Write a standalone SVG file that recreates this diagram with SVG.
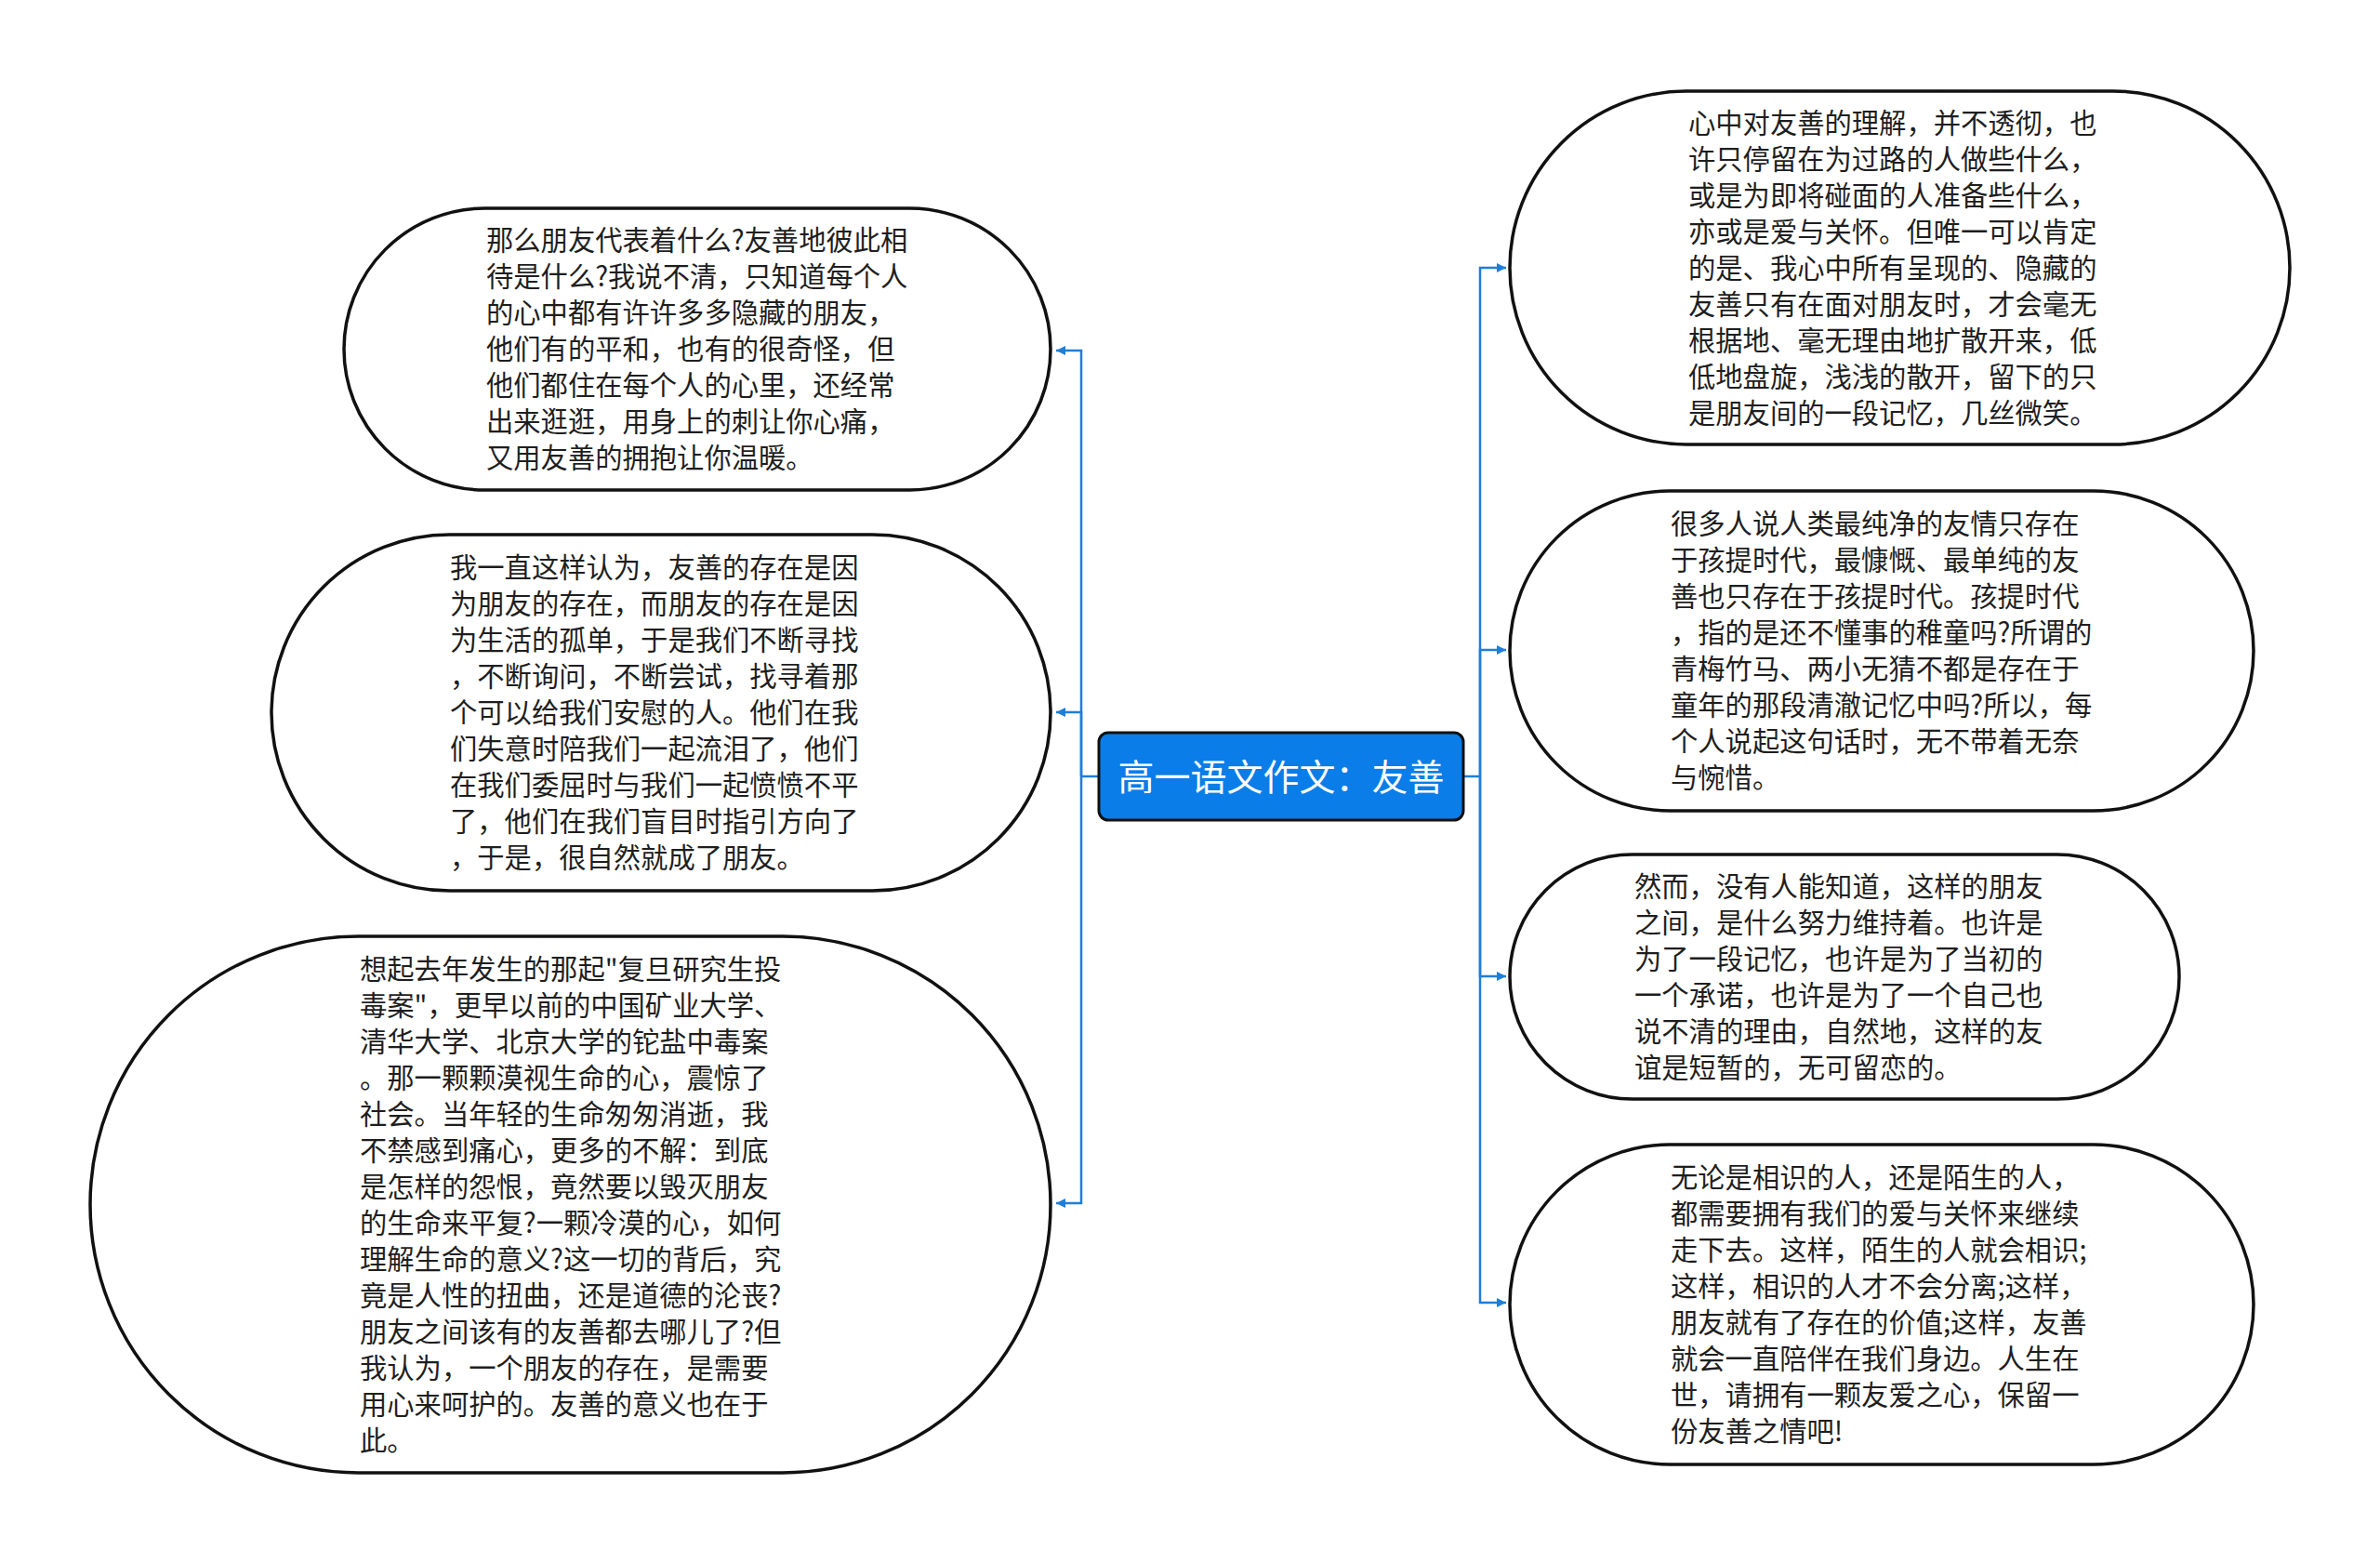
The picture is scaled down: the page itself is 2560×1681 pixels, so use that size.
<svg xmlns="http://www.w3.org/2000/svg" width="2560" height="1681" viewBox="0 0 2560 1681">
<style>
.n{fill:#ffffff;stroke:#111111;stroke-width:3.5}
.t{font-family:"Noto Sans CJK SC","Noto Sans",sans-serif;font-size:29.3px;fill:#1e1e1e}
.c{fill:none;stroke:#1f7ed8;stroke-width:2.5}
.title{font-family:"Noto Sans CJK SC","Noto Sans",sans-serif;font-size:39px;fill:#ffffff}
</style>
<defs>
<marker id="ah" markerWidth="11" markerHeight="11" refX="10" refY="5" orient="auto" markerUnits="userSpaceOnUse">
<path d="M0,0 L10,5 L0,10 z" fill="#1f7ed8"/>
</marker>
</defs>
<rect width="2560" height="1681" fill="#ffffff"/>
<g id="connectors">
<path class="c" d="M1182,835 H1163"/>
<path class="c" d="M1163,835 V377 H1136" marker-end="url(#ah)"/>
<path class="c" d="M1163,835 V766 H1136" marker-end="url(#ah)"/>
<path class="c" d="M1163,835 V1294 H1136" marker-end="url(#ah)"/>
<path class="c" d="M1574,835 H1592"/>
<path class="c" d="M1592,835 V288 H1620" marker-end="url(#ah)"/>
<path class="c" d="M1592,835 V699 H1620" marker-end="url(#ah)"/>
<path class="c" d="M1592,835 V1050 H1620" marker-end="url(#ah)"/>
<path class="c" d="M1592,835 V1401 H1620" marker-end="url(#ah)"/>
</g>
<g id="center">
<rect x="1182" y="788" width="392" height="94" rx="10" ry="10" fill="#0a7de8" stroke="#111111" stroke-width="3"/>
<text class="title" x="1378" y="850" text-anchor="middle">高一语文作文：友善</text>
</g>
<g id="node-l1">
<rect class="n" x="370" y="224" width="760" height="303" rx="151.5" ry="151.5"/>
<text class="t" x="523" y="269">那么朋友代表着什么?友善地彼此相</text>
<text class="t" x="523" y="308">待是什么?我说不清，只知道每个人</text>
<text class="t" x="523" y="347">的心中都有许许多多隐藏的朋友，</text>
<text class="t" x="523" y="386">他们有的平和，也有的很奇怪，但</text>
<text class="t" x="523" y="425">他们都住在每个人的心里，还经常</text>
<text class="t" x="523" y="464">出来逛逛，用身上的刺让你心痛，</text>
<text class="t" x="523" y="503">又用友善的拥抱让你温暖。</text>
</g>
<g id="node-l2">
<rect class="n" x="292" y="575" width="838" height="383" rx="191.5" ry="191.5"/>
<text class="t" x="484" y="621">我一直这样认为，友善的存在是因</text>
<text class="t" x="484" y="660">为朋友的存在，而朋友的存在是因</text>
<text class="t" x="484" y="699">为生活的孤单，于是我们不断寻找</text>
<text class="t" x="484" y="738">，不断询问，不断尝试，找寻着那</text>
<text class="t" x="484" y="777">个可以给我们安慰的人。他们在我</text>
<text class="t" x="484" y="816">们失意时陪我们一起流泪了，他们</text>
<text class="t" x="484" y="855">在我们委屈时与我们一起愤愤不平</text>
<text class="t" x="484" y="894">了，他们在我们盲目时指引方向了</text>
<text class="t" x="484" y="933">，于是，很自然就成了朋友。</text>
</g>
<g id="node-l3">
<rect class="n" x="97" y="1007" width="1033" height="577" rx="288.5" ry="288.5"/>
<text class="t" x="387" y="1052.5">想起去年发生的那起"复旦研究生投</text>
<text class="t" x="387" y="1091.5">毒案"，更早以前的中国矿业大学、</text>
<text class="t" x="387" y="1130.5">清华大学、北京大学的铊盐中毒案</text>
<text class="t" x="387" y="1169.5">。那一颗颗漠视生命的心，震惊了</text>
<text class="t" x="387" y="1208.5">社会。当年轻的生命匆匆消逝，我</text>
<text class="t" x="387" y="1247.5">不禁感到痛心，更多的不解：到底</text>
<text class="t" x="387" y="1286.5">是怎样的怨恨，竟然要以毁灭朋友</text>
<text class="t" x="387" y="1325.5">的生命来平复?一颗冷漠的心，如何</text>
<text class="t" x="387" y="1364.5">理解生命的意义?这一切的背后，究</text>
<text class="t" x="387" y="1403.5">竟是人性的扭曲，还是道德的沦丧?</text>
<text class="t" x="387" y="1442.5">朋友之间该有的友善都去哪儿了?但</text>
<text class="t" x="387" y="1481.5">我认为，一个朋友的存在，是需要</text>
<text class="t" x="387" y="1520.5">用心来呵护的。友善的意义也在于</text>
<text class="t" x="387" y="1559.5">此。</text>
</g>
<g id="node-r1">
<rect class="n" x="1624" y="98" width="839" height="380" rx="190" ry="190"/>
<text class="t" x="1816" y="142.5">心中对友善的理解，并不透彻，也</text>
<text class="t" x="1816" y="181.5">许只停留在为过路的人做些什么，</text>
<text class="t" x="1816" y="220.5">或是为即将碰面的人准备些什么，</text>
<text class="t" x="1816" y="259.5">亦或是爱与关怀。但唯一可以肯定</text>
<text class="t" x="1816" y="298.5">的是、我心中所有呈现的、隐藏的</text>
<text class="t" x="1816" y="337.5">友善只有在面对朋友时，才会毫无</text>
<text class="t" x="1816" y="376.5">根据地、毫无理由地扩散开来，低</text>
<text class="t" x="1816" y="415.5">低地盘旋，浅浅的散开，留下的只</text>
<text class="t" x="1816" y="454.5">是朋友间的一段记忆，几丝微笑。</text>
</g>
<g id="node-r2">
<rect class="n" x="1624" y="528" width="800" height="344" rx="172" ry="172"/>
<text class="t" x="1797" y="574">很多人说人类最纯净的友情只存在</text>
<text class="t" x="1797" y="613">于孩提时代，最慷慨、最单纯的友</text>
<text class="t" x="1797" y="652">善也只存在于孩提时代。孩提时代</text>
<text class="t" x="1797" y="691">，指的是还不懂事的稚童吗?所谓的</text>
<text class="t" x="1797" y="730">青梅竹马、两小无猜不都是存在于</text>
<text class="t" x="1797" y="769">童年的那段清澈记忆中吗?所以，每</text>
<text class="t" x="1797" y="808">个人说起这句话时，无不带着无奈</text>
<text class="t" x="1797" y="847">与惋惜。</text>
</g>
<g id="node-r3">
<rect class="n" x="1624" y="919" width="720" height="263" rx="131.5" ry="131.5"/>
<text class="t" x="1758" y="963.5">然而，没有人能知道，这样的朋友</text>
<text class="t" x="1758" y="1002.5">之间，是什么努力维持着。也许是</text>
<text class="t" x="1758" y="1041.5">为了一段记忆，也许是为了当初的</text>
<text class="t" x="1758" y="1080.5">一个承诺，也许是为了一个自己也</text>
<text class="t" x="1758" y="1119.5">说不清的理由，自然地，这样的友</text>
<text class="t" x="1758" y="1158.5">谊是短暂的，无可留恋的。</text>
</g>
<g id="node-r4">
<rect class="n" x="1624" y="1231" width="800" height="344" rx="172" ry="172"/>
<text class="t" x="1797" y="1277">无论是相识的人，还是陌生的人，</text>
<text class="t" x="1797" y="1316">都需要拥有我们的爱与关怀来继续</text>
<text class="t" x="1797" y="1355">走下去。这样，陌生的人就会相识;</text>
<text class="t" x="1797" y="1394">这样，相识的人才不会分离;这样，</text>
<text class="t" x="1797" y="1433">朋友就有了存在的价值;这样，友善</text>
<text class="t" x="1797" y="1472">就会一直陪伴在我们身边。人生在</text>
<text class="t" x="1797" y="1511">世，请拥有一颗友爱之心，保留一</text>
<text class="t" x="1797" y="1550">份友善之情吧!</text>
</g>
</svg>
